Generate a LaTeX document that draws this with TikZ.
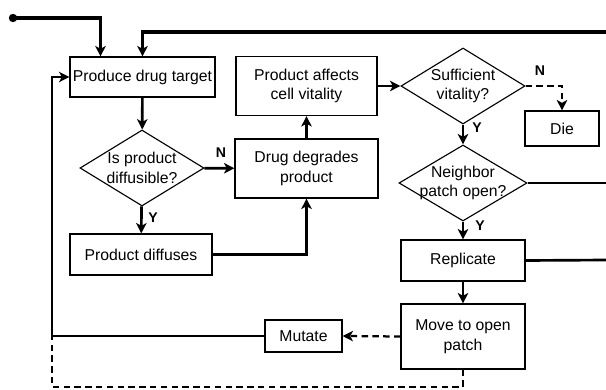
\documentclass[tikz,border=0pt]{standalone}
\usepackage{fontspec}
\setmainfont{Liberation Sans}
\usetikzlibrary{shapes.geometric,arrows.meta,calc}

\tikzset{
    box/.style={draw, line width=0.8pt, align=center, inner sep=1pt},
    choice/.style={draw, diamond, aspect=1.63, line width=0.8pt, align=center, inner sep=-5pt},
    tip/.style={-{Stealth[length=2.6mm,width=2.6mm,inset=0.7mm]}},
    flow/.style={line width=1.9pt, tip},
    loop/.style={line width=1.0pt},
    maybe/.style={line width=1.6pt, dash pattern=on 0.16cm off 0.11cm},
    answer/.style={font=\bfseries}
}

\begin{document}
\begin{tikzpicture}[x=0.025cm, y=-0.025cm, font=\fontsize{11.2}{14}\selectfont]

        % 画布范围
        \useasboundingbox (0,0) rectangle (606,389);

        % 方框
        \node[box, minimum width=3.625cm, minimum height=1.0cm] (prod) at (142.5,77) {Produce drug target};
        \node[box, minimum width=3.55cm, minimum height=1.025cm] (dfs) at (141,254.5) {Product diffuses};
        \node[box, minimum width=3.575cm, minimum height=1.475cm] (deg) at (306.5,168.5) {Drug degrades\\product};
        \node[box, minimum width=3.525cm, minimum height=1.475cm] (aff) at (306.5,86) {Product affects\\cell vitality};
        \node[box, minimum width=1.85cm, minimum height=0.875cm] (die) at (562,128.5) {Die};
        \node[box, minimum width=3.1cm, minimum height=1.025cm] (rep) at (463,260.5) {Replicate};
        \node[box, minimum width=3.1cm, minimum height=1.625cm] (move) at (463,336.5) {Move to open\\patch};
        \node[box, minimum width=1.925cm, minimum height=0.8cm] (mut) at (303.5,336) {Mutate};

        % 菱形
        \node[choice, minimum width=3.1cm, minimum height=1.9cm] (diff) at (142,168) {Is product\\diffusible?};
        \node[choice, minimum width=3.1cm, minimum height=1.9cm] (vit) at (463,86) {Sufficient\\vitality?};
        \node[choice, minimum width=3.2cm, minimum height=1.9cm] (nbr) at (463,183) {Neighbor\\patch open?};

        % 起点和右边的出口
        \fill (13,18) circle (4.2);
        \coordinate (start) at (13,18);
        \coordinate (back) at (606,32);
        \coordinate (out1) at (606,183);
        \coordinate (out2) at (606,260);
        \coordinate (lowleft) at (52,387);
        \coordinate (midleft) at (52,336);

        % 连线
        \draw[flow, line width=2.2pt] (start) -| ($(prod.north)+(-42,0)$);
        \draw[flow, line width=2.8pt] (back) -| (prod.north);
        \draw[flow] (prod) -- (diff);
        \draw[flow] (diff) -- (deg);
        \node[answer] (diffn) at (221,153) {N};
        \draw[flow] (diff) -- (dfs);
        \node[answer] (diffy) at (153,218) {Y};
        \draw[flow] (dfs.east) -| (deg.south);
        \draw[flow] (deg) -- (aff);
        \draw[flow] (aff) -- (vit);
        \draw[maybe, tip] (vit.east) -| (die.north);
        \node[answer] (vitn) at (540,71) {N};
        \draw[flow] (vit) -- (nbr);
        \node[answer] (vity) at (477,128) {Y};
        \draw[line width=1.9pt] (nbr.east) -- (out1);
        \draw[flow] (nbr) -- (rep);
        \node[answer] (nbry) at (480,226) {Y};
        \draw[line width=1.9pt] (rep.east) -- (out2);
        \draw[flow] (rep) -- (move);
        \draw[maybe, tip] (move.west) -- (mut.east);
        \draw[loop, tip] (mut.west) -- (midleft) |- (prod.west);
        \draw[maybe, line width=1.3pt] (move.south) |- (lowleft) -- (midleft);

    \end{tikzpicture}
\end{document}
